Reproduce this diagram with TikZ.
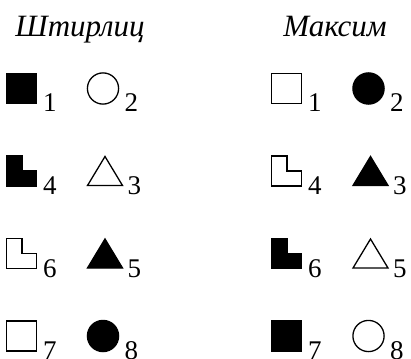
\documentclass[tikz,border=0pt]{standalone}
\usepackage{fontspec}
\setmainfont{Liberation Serif}
\usetikzlibrary{positioning}

% the four symbol kinds, each drawn round a named centre
\newcommand\drawsq[2]{\path[#2] ([shift={(-15,-15)}]#1) rectangle ++(30,30);}
\newcommand\drawcrc[2]{\path[#2] (#1) circle[radius=15.6];}
\newcommand\drawtri[2]{\path[#2] ([shift={(-15.5,14.5)}]#1) -- ++(35,0) -- ++(-17.5,-29) -- cycle;}
\newcommand\drawlsh[2]{\path[#2] ([shift={(-15,-15)}]#1) -- ++(15.5,0) -- ++(0,15) -- ++(14.5,0) -- ++(0,15) -- ++(-30,0) -- cycle;}
\def\dxsq{21}\def\dxcrc{21}\def\dxtri{24}\def\dxlsh{21}
% kind, name, x, y, fill, number
\newcommand\glyph[6]{
  \coordinate (#2) at (#3,#4);
  \csname draw#1\endcsname{#2}{#5}
  \node[idx] (#2-n) at ([shift={(\csname dx#1\endcsname,23.5)}]#2) {#6};
}

\begin{document}
\begin{tikzpicture}[x=1pt, y=-1pt, line width=1.3pt,
    full/.style={draw=black, fill=black},
    empty/.style={draw=black, fill=white},
    idx/.style={anchor=base west, inner sep=0pt, font=\fontsize{27}{32}\selectfont},
    title/.style={anchor=base, inner sep=0pt, font=\fontsize{31}{36}\selectfont\itshape},
  ]
  \useasboundingbox (0,0) rectangle (411,358);

  \node[title] (stirlitz) at (80,37) {Штирлиц};
  \node[title] (maksim) at (335,37) {Максим};

  % left pair: Stirlitz; right pair: Maksim, fills swapped
  \foreach \y/\ka/\fa/\na/\kb/\fb/\nb/\fc/\fd in {
      88.5/sq/full/1/crc/empty/2/empty/full,
      171/lsh/full/4/tri/empty/3/empty/full,
      253.5/lsh/empty/6/tri/full/5/full/empty,
      336/sq/empty/7/crc/full/8/full/empty} {
    \glyph{\ka}{a\na}{21.5}{\y}{\fa}{\na}
    \glyph{\kb}{a\nb}{103}{\y}{\fb}{\nb}
    \glyph{\ka}{b\na}{286.5}{\y}{\fc}{\na}
    \glyph{\kb}{b\nb}{368.5}{\y}{\fd}{\nb}
  }
\end{tikzpicture}
\end{document}
